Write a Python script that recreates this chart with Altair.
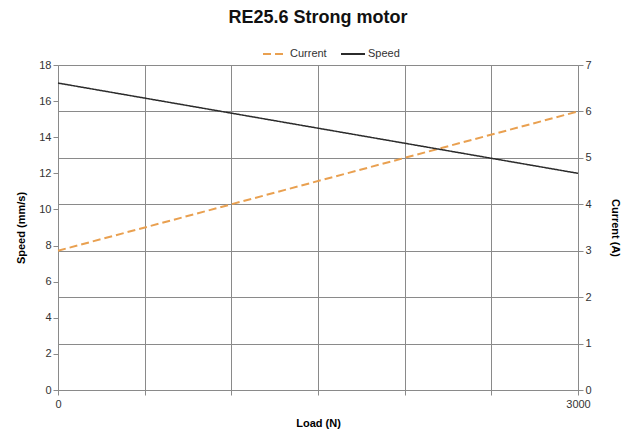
import altair as alt
import pandas as pd

load = [0, 3000]
speed = [17, 12]
current = [3, 6]
series_names = ["Current", "Speed"]
x_ticks = [0, 500, 1000, 1500, 2000, 2500, 3000]
speed_ticks = [0, 2, 4, 6, 8, 10, 12, 14, 16, 18]
current_ticks = [0, 1, 2, 3, 4, 5, 6, 7]

df_speed = pd.DataFrame({"load": load, "value": speed, "series": "Speed"})
df_current = pd.DataFrame({"load": load, "value": current, "series": "Current"})

FONT = "Liberation Sans"
GRID = "#8a8a8a"

color = alt.Color(
    "series:N",
    scale=alt.Scale(domain=series_names, range=["#E9A050", "#2b2b2b"]),
    legend=alt.Legend(
        title=None, orient="none", direction="horizontal",
        legendX=204, legendY=-24,
        symbolType="stroke", symbolSize=576, symbolStrokeWidth=2,
        labelFont=FONT, labelFontSize=11, labelColor="#333",
        columnPadding=10, labelOffset=2,
    ),
)
dash = alt.StrokeDash(
    "series:N",
    scale=alt.Scale(domain=series_names, range=[[8, 4], [1, 0]]),
    legend=alt.Legend(title=None, orient="none", legendX=204, legendY=-24),
)

x = alt.X(
    "load:Q",
    scale=alt.Scale(domain=[0, 3000], nice=False),
    axis=alt.Axis(
        title="Load (N)", values=x_ticks, grid=True, gridColor=GRID,
        labelExpr="datum.value == 0 || datum.value == 3000 ? datum.label : ''",
        format="d", tickSize=5, tickColor=GRID, domainColor=GRID,
        labelFlush=False,
        labelFont=FONT, labelFontSize=11, labelColor="#333",
        titleFont=FONT, titleFontSize=11, titleFontWeight="bold",
        titlePadding=8, labelPadding=3,
    ),
)

speed_layer = alt.Chart(df_speed).mark_line(strokeWidth=1.5).encode(
    x=x,
    y=alt.Y(
        "value:Q",
        scale=alt.Scale(domain=[0, 18], nice=False),
        axis=alt.Axis(
            title="Speed (mm/s)", values=speed_ticks, grid=False, orient="left",
            tickSize=5, tickColor=GRID, domainColor=GRID, labelFlush=False,
            labelFont=FONT, labelFontSize=11, labelColor="#333",
            titleFont=FONT, titleFontSize=11, titleFontWeight="bold",
            titlePadding=12,
        ),
    ),
    color=color,
    strokeDash=dash,
)

current_layer = alt.Chart(df_current).mark_line(strokeWidth=2).encode(
    x=x,
    y=alt.Y(
        "value:Q",
        scale=alt.Scale(domain=[0, 7], nice=False),
        axis=alt.Axis(
            title="Current (A)", values=current_ticks, grid=True, orient="right",
            gridColor=GRID, tickSize=5, tickColor=GRID, domainColor=GRID,
            labelFlush=False,
            labelFont=FONT, labelFontSize=11, labelColor="#333",
            titleFont=FONT, titleFontSize=11, titleFontWeight="bold",
            titlePadding=18,
        ),
    ),
    color=color,
    strokeDash=dash,
)

chart = (
    alt.layer(current_layer, speed_layer)
    .resolve_scale(y="independent")
    .properties(
        width=520, height=325,
        autosize=alt.AutoSizeParams(type="none"),
        padding={"left": 50, "top": 57, "right": 46, "bottom": 50},
        title=alt.Title("RE25.6 Strong motor", font=FONT, fontSize=18,
                        fontWeight="bold", color="#111", offset=14),
    )
    .configure_view(stroke=None)
)

chart.save("out.html", embed_options={"renderer": "svg", "actions": False})
